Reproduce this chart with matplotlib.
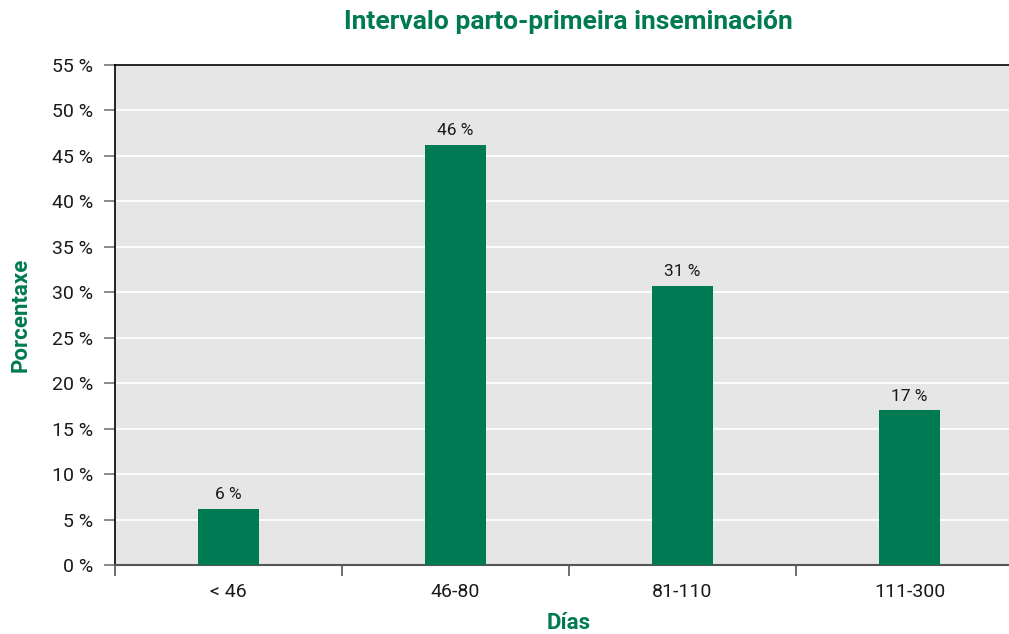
import matplotlib
matplotlib.use("Agg")
import matplotlib.pyplot as plt
import numpy as np

categories = ["< 46", "46-80", "81-110", "111-300"]
values = [6.2, 46.2, 30.7, 17.0]
labels = ["6 %", "46 %", "31 %", "17 %"]
yticks = [0, 5, 10, 15, 20, 25, 30, 35, 40, 45, 50, 55]

GREEN = "#007A53"
TXT = "#1a1a1a"
plt.rcParams['font.family'] = ['Roboto', 'DejaVu Sans']

W, H = 1009, 634
fig = plt.figure(figsize=(W/100, H/100), dpi=100)
left, right, top, bottom = 115, 1023, 65, 565
ax = fig.add_axes([left/W, 1-bottom/H, (right-left)/W, (bottom-top)/H])
ax.set_facecolor("#E6E6E6")

x = np.arange(len(categories))
ax.bar(x, values, width=0.27, color=GREEN, zorder=3)
for xi, v, lab in zip(x, values, labels):
    ax.annotate(lab, (xi, v), xytext=(0, 5), textcoords="offset points",
                ha="center", va="bottom", fontsize=12.5, color=TXT)

ax.set_xlim(-0.5, len(categories) - 0.5)
ax.set_ylim(0, 55)
ax.set_yticks(yticks)
ax.set_yticklabels([f"{t} %" for t in yticks], fontsize=14, color=TXT)
ax.yaxis.grid(True, color="white", linewidth=1.3, zorder=1)
ax.set_axisbelow(True)

ax.set_xticks(x)
ax.set_xticklabels(categories, fontsize=14, color=TXT)
ax.tick_params(axis="x", length=0, pad=13)
ax.set_xticks(np.arange(-0.5, len(categories), 1.0), minor=True)
ax.tick_params(axis="x", which="minor", length=8, width=1.2, color="#555555")
ax.tick_params(axis="y", length=8, width=1.2, color="#777777", pad=8)

for s in ["top", "left"]:
    ax.spines[s].set_color("black")
    ax.spines[s].set_linewidth(1.2)
ax.spines["bottom"].set_color("#555555")
ax.spines["bottom"].set_linewidth(1.5)
ax.spines["right"].set_visible(False)

ax.set_xlabel("Días", fontsize=16, fontweight="bold", color=GREEN, labelpad=8)
ax.set_ylabel("Porcentaxe", fontsize=16, fontweight="bold", color=GREEN, labelpad=14)
fig.text(568/W, 1-22/H, "Intervalo parto-primeira inseminación", fontsize=19,
         fontweight="bold", color=GREEN, ha="center", va="center")

fig.savefig("out.png", dpi=100)
